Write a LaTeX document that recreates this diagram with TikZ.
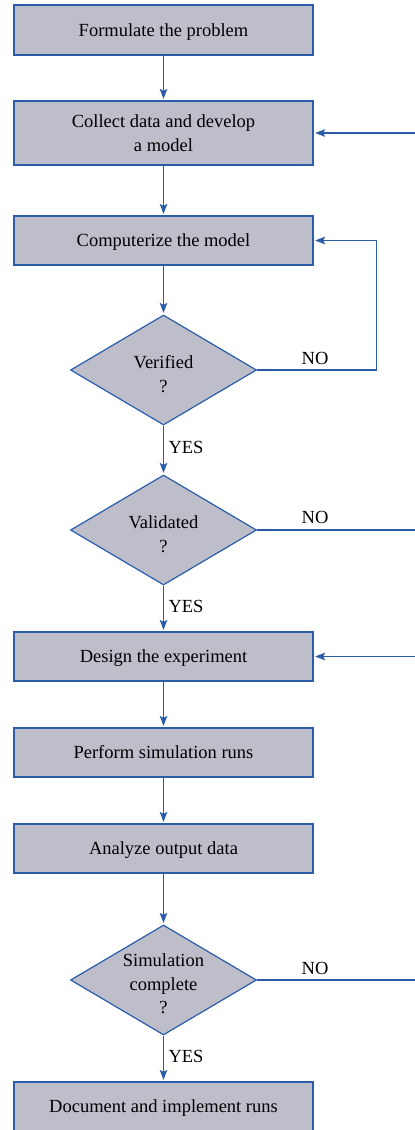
\documentclass[tikz,border=0pt]{standalone}
\usepackage{fontspec}
\setmainfont{Liberation Serif}
\usetikzlibrary{shapes.geometric,arrows.meta}
\definecolor{boxfill}{RGB}{190,190,203}
\definecolor{lineblue}{RGB}{42,92,170}
\begin{document}
\begin{tikzpicture}[x=1pt,y=-1pt,
  every node/.style={font=\fontsize{18.5}{23.5}\selectfont},
  stepbox/.style={draw=lineblue,fill=boxfill,line width=1.2pt,minimum width=299pt,inner sep=0pt,align=center},
  oneline/.style={text height=13pt,text depth=1pt},
  decide/.style={diamond,draw=lineblue,fill=boxfill,line width=1.2pt,minimum width=186pt,minimum height=110pt,inner sep=0pt},
  flow/.style={draw=lineblue,line width=1.2pt,-{Stealth[length=10pt,width=7.5pt,inset=2pt]},shorten >=1.5pt},
  plain/.style={draw=lineblue,line width=1.2pt},
  lbl/.style={inner sep=0pt}]
\useasboundingbox (0,0) rectangle (415,1130);
\node[stepbox,oneline,minimum height=50pt] (b1) at (163.5,30) {Formulate the problem};
\node[stepbox,minimum height=64pt] (b2) at (163.5,133) {Collect data and develop\\a model};
\node[stepbox,oneline,minimum height=49pt] (b3) at (163.5,240.5) {Computerize the model};
\node[decide] (d1) at (163.5,370) {};
\node[align=center] (d1t) at (163.5,374) {Verified\\?};
\node[decide] (d2) at (163.5,530) {};
\node[align=center] (d2t) at (163.5,534) {Validated\\?};
\node[stepbox,oneline,minimum height=49pt] (b4) at (163.5,656.5) {Design the experiment};
\node[stepbox,oneline,minimum height=49pt] (b5) at (163.5,752.5) {Perform simulation runs};
\node[stepbox,oneline,minimum height=49pt] (b6) at (163.5,848.5) {Analyze output data};
\node[decide] (d3) at (163.5,980) {};
\node[align=center] (d3t) at (163.5,984) {Simulation\\complete\\?};
\node[stepbox,oneline,minimum height=49pt] (b7) at (163.5,1106.5) {Document and implement runs};

\coordinate (r2) at (415,133);
\coordinate (c1) at (376.5,370);
\coordinate (r4) at (415,656.5);
\coordinate (e2) at (415,530);
\coordinate (e3) at (415,980);

\draw[flow] (b1) -- (b2);
\draw[flow] (b2) -- (b3);
\draw[flow] (b3) -- (d1);
\draw[flow] (d1) -- (d2);
\draw[flow] (d2) -- (b4);
\draw[flow] (b4) -- (b5);
\draw[flow] (b5) -- (b6);
\draw[flow] (b6) -- (d3);
\draw[flow] (d3) -- (b7);

\draw[flow] (r2) -- (b2.east);
\draw[flow] (d1.east) -- (c1) |- (b3.east);
\draw[plain] (d2.east) -- (e2);
\draw[flow] (r4) -- (b4.east);
\draw[plain] (d3.east) -- (e3);

\node[lbl] (no1) at (315,358) {NO};
\node[lbl] (no2) at (315,517) {NO};
\node[lbl] (no3) at (315,968) {NO};
\node[lbl] (y1) at (186,447) {YES};
\node[lbl] (y2) at (186,606) {YES};
\node[lbl] (y3) at (186,1056) {YES};
\end{tikzpicture}
\end{document}
